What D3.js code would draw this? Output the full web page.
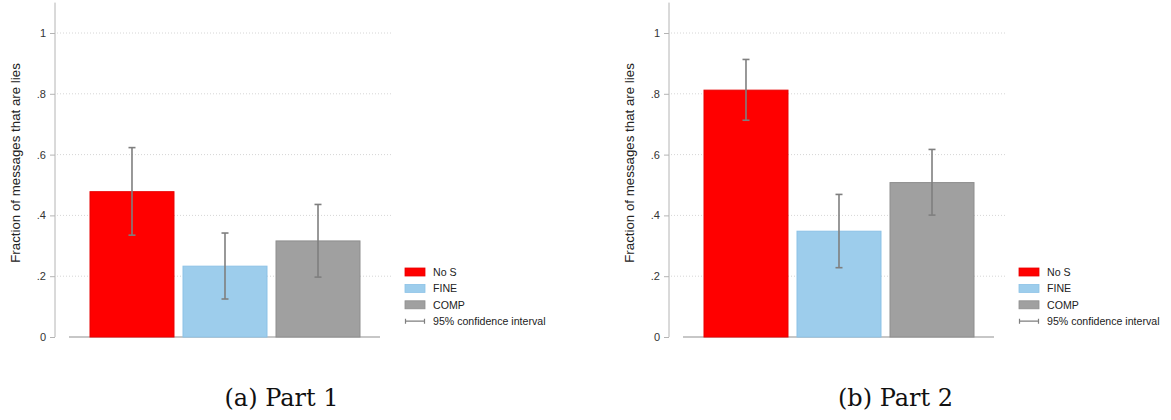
<!DOCTYPE html>
<html>
<head>
<meta charset="utf-8">
<script src="https://cdn.jsdelivr.net/npm/d3@7"></script>
<style>
  html, body { margin: 0; padding: 0; background: #fff; }
  svg { display: block; }
</style>
</head>
<body>
<svg id="chart" width="1171" height="420"></svg>
<script>
// Treatment groups and their colours
const groups = ["No S", "FINE", "COMP"];
const groupColors = ["#ff0000", "#9dcdec", "#a0a0a0"];
const groupStrokes = ["#e80000", "#8cc2e6", "#8e8e8e"];

// Fraction of messages that are lies, with 95% confidence bounds
const part1Mean = [0.478, 0.233, 0.316];
const part1Low  = [0.335, 0.125, 0.197];
const part1High = [0.623, 0.342, 0.436];

const part2Mean = [0.812, 0.348, 0.508];
const part2Low  = [0.713, 0.228, 0.401];
const part2High = [0.913, 0.469, 0.617];

const yTicks = [0, 0.2, 0.4, 0.6, 0.8, 1];
const yTickLabels = ["0", ".2", ".4", ".6", ".8", "1"];
const captions = ["(a) Part 1", "(b) Part 2"];
const yTitle = "Fraction of messages that are lies";
const ciLabel = "95% confidence interval";

const panels = [
  { mean: part1Mean, low: part1Low, high: part1High, caption: captions[0], dx: 0 },
  { mean: part2Mean, low: part2Low, high: part2High, caption: captions[1], dx: 614 }
];

const svg = d3.select("#chart");
const sans = "'Liberation Sans', Arial, sans-serif";

const y = d3.scaleLinear().domain([0, 1.1]).range([337, 2.6]);
const x = d3.scaleBand().domain(groups).range([90, 360]).paddingInner(0.097).paddingOuter(0);

panels.forEach(p => {
  const g = svg.append("g").attr("transform", `translate(${p.dx},0)`);

  // dotted horizontal gridlines
  g.selectAll("line.grid")
    .data(yTicks.filter(t => t > 0))
    .join("line")
    .attr("class", "grid")
    .attr("x1", 57).attr("x2", 393)
    .attr("y1", d => y(d)).attr("y2", d => y(d))
    .attr("stroke", "#d6d6d6")
    .attr("stroke-width", 1)
    .attr("stroke-dasharray", "1,2");

  // y axis
  const yAxis = d3.axisLeft(y)
    .tickValues(yTicks)
    .tickFormat((d, i) => yTickLabels[i])
    .tickSize(5)
    .tickPadding(4);
  const ya = g.append("g").attr("transform", "translate(55,0)").call(yAxis);
  ya.select(".domain").attr("stroke", "#b4b4b4").attr("d", `M0,${y(1.1)}V${y(0)}`);
  ya.selectAll(".tick line").attr("stroke", "#b4b4b4");
  ya.selectAll(".tick text")
    .attr("fill", "#333")
    .style("font-family", sans)
    .style("font-size", "11px");

  // x axis baseline
  const xa = g.append("g").attr("transform", `translate(0,${y(0)})`)
    .call(d3.axisBottom(x).tickSize(0).tickFormat(""));
  xa.select(".domain").attr("stroke", "#b4b4b4").attr("stroke-width", 1.3)
    .attr("d", "M69,0H380");

  // bars
  g.selectAll("rect.bar")
    .data(groups)
    .join("rect")
    .attr("class", "bar")
    .attr("x", d => x(d))
    .attr("width", x.bandwidth())
    .attr("y", (d, i) => y(p.mean[i]))
    .attr("height", (d, i) => y(0) - y(p.mean[i]))
    .attr("fill", (d, i) => groupColors[i])
    .attr("stroke", (d, i) => groupStrokes[i])
    .attr("stroke-width", 1);

  // confidence intervals
  const ci = g.selectAll("g.ci").data(groups).join("g").attr("class", "ci")
    .attr("stroke", "#7f7f7f").attr("stroke-width", 1.6);
  ci.append("line")
    .attr("x1", d => x(d) + x.bandwidth() / 2).attr("x2", d => x(d) + x.bandwidth() / 2)
    .attr("y1", (d, i) => y(p.low[i])).attr("y2", (d, i) => y(p.high[i]));
  ci.append("line")
    .attr("x1", d => x(d) + x.bandwidth() / 2 - 3.5).attr("x2", d => x(d) + x.bandwidth() / 2 + 3.5)
    .attr("y1", (d, i) => y(p.high[i])).attr("y2", (d, i) => y(p.high[i]));
  ci.append("line")
    .attr("x1", d => x(d) + x.bandwidth() / 2 - 3.5).attr("x2", d => x(d) + x.bandwidth() / 2 + 3.5)
    .attr("y1", (d, i) => y(p.low[i])).attr("y2", (d, i) => y(p.low[i]));

  // y axis title
  g.append("text")
    .attr("transform", "translate(20,163) rotate(-90)")
    .attr("text-anchor", "middle")
    .attr("fill", "#222")
    .style("font-family", sans)
    .style("font-size", "13.3px")
    .text(yTitle);

  // legend
  const lg = g.append("g").attr("transform", "translate(405,0)");
  groups.forEach((name, i) => {
    const cy = 272 + i * 16.4;
    lg.append("rect")
      .attr("x", 0).attr("y", cy - 4).attr("width", 20).attr("height", 8)
      .attr("fill", groupColors[i]).attr("stroke", groupStrokes[i]).attr("stroke-width", 0.8);
    lg.append("text")
      .attr("x", 28).attr("y", cy + 4)
      .attr("fill", "#222")
      .style("font-family", sans).style("font-size", "10.6px")
      .text(name);
  });
  const ly = 272 + 3 * 16.4;
  lg.append("path")
    .attr("d", `M0.5,${ly - 2.5}V${ly + 2.5}M0.5,${ly}H19.5M19.5,${ly - 2.5}V${ly + 2.5}`)
    .attr("stroke", "#7f7f7f").attr("stroke-width", 1.2).attr("fill", "none");
  lg.append("text")
    .attr("x", 28).attr("y", ly + 4)
    .attr("fill", "#222")
    .style("font-family", sans).style("font-size", "10.6px")
    .text(ciLabel);

  // caption below the panel
  g.append("text")
    .attr("x", 281.5).attr("y", 406)
    .attr("text-anchor", "middle")
    .attr("fill", "#111")
    .style("font-family", "'DejaVu Serif', serif")
    .style("font-size", "24px")
    .text(p.caption);
});
</script>
</body>
</html>
